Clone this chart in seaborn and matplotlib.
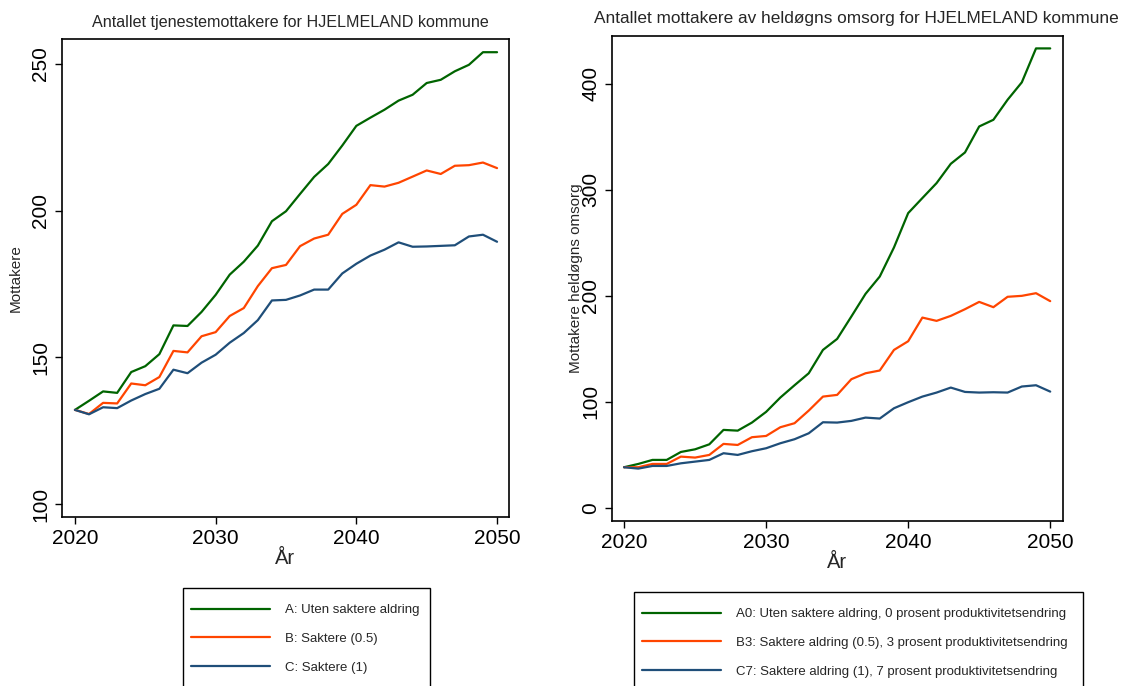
import pandas as pd
import matplotlib
matplotlib.use("Agg")
import matplotlib.pyplot as plt
from matplotlib.patches import Rectangle
import seaborn as sns

years = list(range(2020, 2051))

# Left panel: tjenestemottakere
left_a = [132.1, 135.2, 138.4, 137.9, 145.0, 147.0, 151.1, 160.9, 160.7, 165.5,
          171.3, 178.2, 182.6, 188.1, 196.4, 199.8, 205.7, 211.5, 215.9, 222.2,
          228.9, 231.7, 234.4, 237.5, 239.5, 243.5, 244.6, 247.5, 249.7, 254.0, 254.0]
left_b = [132.1, 130.7, 134.5, 134.3, 141.1, 140.5, 143.3, 152.2, 151.7, 157.2,
          158.6, 164.1, 166.8, 174.3, 180.4, 181.5, 187.9, 190.5, 191.8, 198.9,
          202.0, 208.7, 208.2, 209.5, 211.6, 213.7, 212.5, 215.3, 215.5, 216.4, 214.5]
left_c = [132.1, 130.6, 133.0, 132.7, 135.3, 137.5, 139.3, 145.8, 144.6, 148.2,
          150.9, 155.0, 158.3, 162.7, 169.4, 169.6, 171.1, 173.1, 173.1, 178.6,
          181.9, 184.7, 186.7, 189.2, 187.7, 187.8, 188.0, 188.2, 191.2, 191.8, 189.4]
left_labels = ["A: Uten saktere aldring", "B: Saktere (0.5)", "C: Saktere (1)"]

# Right panel: heldøgns omsorg
right_a = [38.4, 41.5, 45.3, 45.3, 52.8, 55.3, 60.0, 73.6, 72.9, 80.5,
           90.6, 104.1, 115.7, 127.0, 149.0, 159.4, 180.5, 201.9, 218.2, 245.6,
           278.0, 292.2, 306.3, 324.5, 335.2, 359.7, 366.0, 384.9, 401.3, 433.3, 433.3]
right_b = [38.4, 38.4, 41.5, 41.5, 48.4, 47.5, 50.0, 60.4, 59.4, 66.7,
           67.9, 76.1, 79.9, 91.8, 105.0, 106.6, 121.4, 127.0, 129.6, 149.0,
           157.2, 179.5, 176.4, 181.1, 187.4, 194.3, 189.3, 199.1, 200.0, 202.5, 195.0]
right_c = [38.4, 37.1, 39.6, 39.6, 42.1, 43.7, 45.3, 51.6, 50.0, 53.5,
           56.3, 61.0, 64.8, 70.4, 80.8, 80.5, 82.1, 85.2, 84.3, 94.0,
           99.7, 105.0, 108.8, 113.5, 109.4, 108.8, 109.1, 108.8, 114.5, 115.7, 109.7]
right_labels = ["A0: Uten saktere aldring, 0 prosent produktivitetsendring",
                "B3: Saktere aldring (0.5), 3 prosent produktivitetsendring",
                "C7: Saktere aldring (1), 7 prosent produktivitetsendring"]

colors = ["#006400", "#ff4500", "#1f4e79"]


def long_df(series, labels):
    frames = []
    for vals, lab in zip(series, labels):
        frames.append(pd.DataFrame({"År": years, "verdi": vals, "scenario": lab}))
    return pd.concat(frames, ignore_index=True)


sns.set_style("ticks")
plt.rcParams["font.family"] = ["Liberation Sans", "DejaVu Sans"]

W, H = 1123, 686
fig = plt.figure(figsize=(W / 100, H / 100), dpi=100)
ax1 = fig.add_axes([62 / W, 1 - 517 / H, 447 / W, 478 / H])
ax2 = fig.add_axes([612 / W, 1 - 521 / H, 451 / W, 485 / H])

df1 = long_df([left_a, left_b, left_c], left_labels)
df2 = long_df([right_a, right_b, right_c], right_labels)

sns.lineplot(data=df1, x="År", y="verdi", hue="scenario", palette=colors,
             linewidth=1.6, ax=ax1, legend=False)
sns.lineplot(data=df2, x="År", y="verdi", hue="scenario", palette=colors,
             linewidth=1.6, ax=ax2, legend=False)

ax1.set_xlim(2019.08, 2050.85)
ax1.set_ylim(95.6, 258.5)
ax1.set_yticks([100, 150, 200, 250])
ax2.set_xlim(2019.15, 2050.9)
ax2.set_ylim(-12.3, 445)
ax2.set_yticks([0, 100, 200, 300, 400])

for ax in (ax1, ax2):
    ax.set_xticks([2020, 2030, 2040, 2050])
    ax.tick_params(axis="both", labelsize=15, length=5, width=1, colors="black")
    ax.tick_params(axis="x", pad=4)
    for lab in ax.get_yticklabels():
        lab.set_rotation(90)
        lab.set_va("center")
    for s in ax.spines.values():
        s.set_visible(True)
        s.set_linewidth(1.2)
        s.set_color("black")
    ax.set_xlabel("År", fontsize=14.5, labelpad=0)

ax1.set_ylabel("Mottakere", fontsize=11, labelpad=6)
ax2.set_ylabel("Mottakere heldøgns omsorg", fontsize=11, labelpad=-1)

fig.text(290 / W, 1 - 22 / H, "Antallet tjenestemottakere for HJELMELAND kommune",
         ha="center", va="center", fontsize=11.6)
fig.text(856 / W, 1 - 19 / H, "Antallet mottakere av heldøgns omsorg for HJELMELAND kommune",
         ha="center", va="center", fontsize=12.4)


def add_legend(labels, x0, x1, ytop):
    # frame drawn separately so it can run past the bottom edge like the reference
    fig.patches.append(Rectangle((x0 / W, 0 - 20 / H), (x1 - x0) / W, (H + 20 - ytop) / H,
                                 transform=fig.transFigure, fill=False,
                                 edgecolor="black", linewidth=1.0))
    handles = [plt.Line2D([], [], color=c, linewidth=1.6) for c in colors]
    fig.legend(handles, labels, loc="upper left",
               bbox_to_anchor=((x0 + 8) / W, 1 - (ytop + 16) / H),
               fontsize=9.5, handlelength=6.0, handletextpad=1.1,
               labelspacing=1.25, borderpad=0, borderaxespad=0,
               frameon=False)


add_legend(left_labels, 183, 430, 588)
add_legend(right_labels, 634, 1083, 592)

fig.savefig("out.png", dpi=100)
